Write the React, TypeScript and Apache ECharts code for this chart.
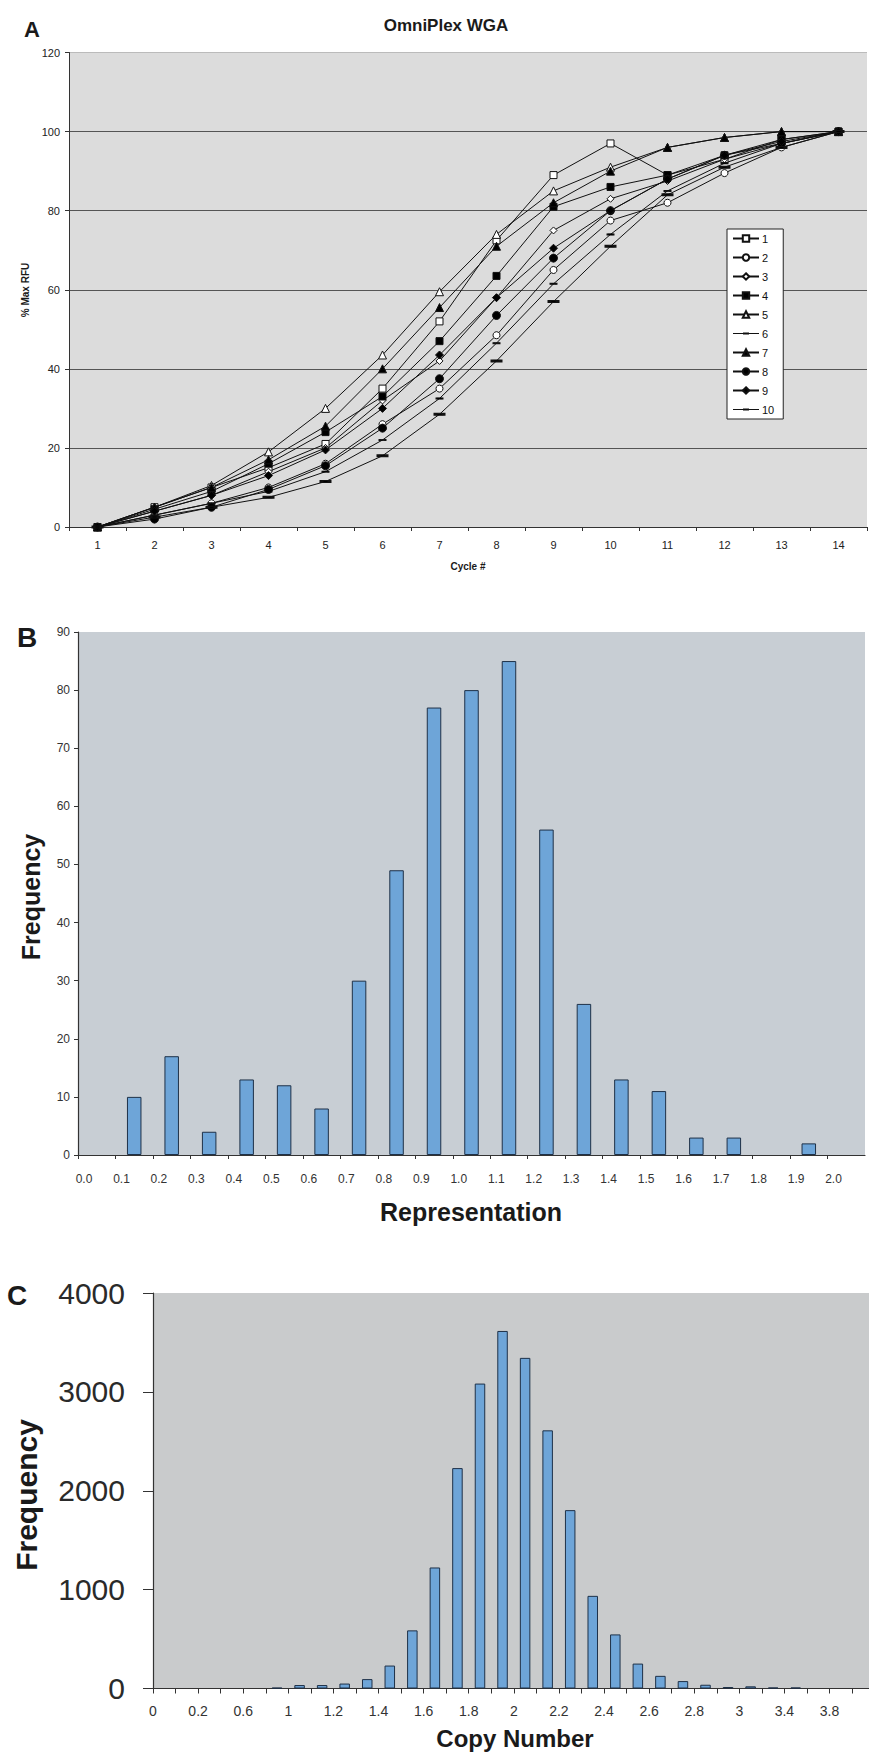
import React, { useEffect, useRef } from 'react';
import * as echarts from 'echarts';

// ---------- Panel A data ----------
const cycles = ['1', '2', '3', '4', '5', '6', '7', '8', '9', '10', '11', '12', '13', '14'];
const runNames = ['1', '2', '3', '4', '5', '6', '7', '8', '9', '10'];
const run1 = [0, 5, 10, 15, 21, 35, 52, 72.5, 89, 97, 89, 93, 98, 100];
const run2 = [0, 3, 6, 10, 16, 26, 35, 48.5, 65, 77.5, 82, 89.5, 96, 100];
const run3 = [0, 4, 8, 14, 20, 32, 42, 58, 75, 83, 87.5, 93, 97, 100];
const run4 = [0, 4.5, 9, 16, 24, 33, 47, 63.5, 81, 86, 89, 94, 98, 100];
const run5 = [0, 5, 10.5, 19, 30, 43.5, 59.5, 74, 85, 91, 96, 98.5, 100, 100];
const run6 = [0, 3, 6, 9, 14, 22, 32.5, 46.5, 61.5, 74, 85, 92, 97, 100];
const run7 = [0, 5, 10, 17, 25.5, 40, 55.5, 71, 82, 90, 96, 98.5, 100, 100];
const run8 = [0, 2, 5, 9.5, 15.5, 25, 37.5, 53.5, 68, 80, 88, 94, 97, 100];
const run9 = [0, 4, 8, 13, 19.5, 30, 43.5, 58, 70.5, 80, 88, 94, 97.5, 100];
const run10 = [0, 2.5, 5, 7.5, 11.5, 18, 28.5, 42, 57, 71, 84, 91, 96, 100];
const runs = [run1, run2, run3, run4, run5, run6, run7, run8, run9, run10];

// ---------- Panel B data ----------
const repLabels = ['0.0', '0.1', '0.2', '0.3', '0.4', '0.5', '0.6', '0.7', '0.8', '0.9', '1.0',
  '1.1', '1.2', '1.3', '1.4', '1.5', '1.6', '1.7', '1.8', '1.9', '2.0'];
const repFreq = [0, 10, 17, 4, 13, 12, 8, 30, 49, 77, 80, 85, 56, 26, 13, 11, 3, 3, 0, 2, 0];

// ---------- Panel C data ----------
const copyLabels = ['0', '0.2', '0.6', '1', '1.2', '1.4', '1.6', '1.8', '2', '2.2', '2.4', '2.6', '2.8', '3', '3.4', '3.8'];
const copyFreq = [0, 0, 0, 0, 0, 8, 35, 35, 50, 95, 232, 588, 1224, 2229, 3084, 3616, 3344, 2611,
  1804, 937, 547, 252, 128, 75, 38, 15, 22, 10, 10, 0, 0, 0];

// marker styles per run (style only)
const markers = [
  { symbol: 'rect', size: 7, fill: '#ffffff' },
  { symbol: 'circle', size: 7, fill: '#ffffff' },
  { symbol: 'diamond', size: 7, fill: '#ffffff' },
  { symbol: 'rect', size: 7, fill: '#000000' },
  { symbol: 'triangle', size: 8, fill: '#ffffff' },
  { symbol: 'rect', size: [6, 1.5], fill: '#000000' },
  { symbol: 'triangle', size: 8, fill: '#000000' },
  { symbol: 'circle', size: 8, fill: '#000000' },
  { symbol: 'diamond', size: 8, fill: '#000000' },
  { symbol: 'rect', size: [8, 2], fill: '#000000' },
];
const DASH_ICON = 'path://M0,1 H10 V0.4 H16 V1 H26 V2 H16 V2.6 H10 V2 H0 Z';

const FONT = "'Liberation Sans', Arial, Helvetica, sans-serif";

function txt(text: string, x: number, y: number, size: number, bold = true, rotate = 0) {
  return {
    type: 'text',
    x,
    y,
    rotation: rotate,
    silent: true,
    style: {
      text,
      font: `${bold ? 'bold ' : ''}${size}px ${FONT}`,
      fill: '#1a1a1a',
      align: 'center',
      verticalAlign: 'middle',
      textAlign: 'center',
      textVerticalAlign: 'middle',
    },
  };
}

export default function App() {
  const ref = useRef<HTMLDivElement>(null);

  useEffect(() => {
    if (!ref.current) return;
    const chart = echarts.init(ref.current, undefined, { renderer: 'svg' });

    const lineSeries = runs.map((d, i) => ({
      name: runNames[i],
      type: 'line',
      xAxisIndex: 0,
      yAxisIndex: 0,
      data: d,
      symbol: markers[i].symbol,
      symbolSize: markers[i].size,
      showSymbol: true,
      lineStyle: { color: '#111', width: 1 },
      itemStyle: { color: markers[i].fill, borderColor: '#111', borderWidth: 1 },
      emphasis: { disabled: true },
      z: 3,
    }));

    const legendData = runNames.map((n, i) =>
      markers[i].symbol === 'rect' && Array.isArray(markers[i].size)
        ? { name: n, icon: DASH_ICON, itemStyle: { color: '#111', borderWidth: 0 } }
        : n
    );

    const option: any = {
      animation: false,
      backgroundColor: '#ffffff',
      textStyle: { fontFamily: FONT },
      grid: [
        { left: 69, top: 52.5, width: 798, height: 474.5, show: true, backgroundColor: '#dcdcdc', borderWidth: 0 },
        { left: 78, top: 632, width: 787, height: 523, show: true, backgroundColor: '#c8ced4', borderWidth: 0 },
        { left: 153, top: 1293, width: 716, height: 395.5, show: true, backgroundColor: '#c9cbcc', borderWidth: 0 },
      ],
      legend: {
        orient: 'vertical',
        left: 727,
        top: 229,
        backgroundColor: '#ffffff',
        borderColor: '#222',
        borderWidth: 1,
        borderRadius: 0,
        padding: [4, 9, 4, 5],
        itemWidth: 26,
        itemHeight: 8,
        itemGap: 8,
        symbolKeepAspect: true,
        data: legendData,
        textStyle: { fontSize: 11, color: '#111', fontFamily: FONT, padding: [0, 0, 0, -2] },
        selectedMode: false,
      },
      xAxis: [
        {
          gridIndex: 0,
          type: 'category',
          data: cycles,
          boundaryGap: true,
          axisLine: { lineStyle: { color: '#333', width: 1 } },
          axisTick: { show: true, length: 4, lineStyle: { color: '#333' } },
          axisLabel: { fontSize: 11, color: '#222', margin: 12 },
          splitLine: { show: false },
        },
        {
          gridIndex: 1,
          type: 'value',
          min: 0,
          max: 21,
          interval: 1,
          axisLine: { onZero: false, lineStyle: { color: '#333', width: 1.2 } },
          axisTick: { show: true, length: 4, lineStyle: { color: '#333' } },
          axisLabel: {
            fontSize: 12,
            color: '#333',
            margin: 18,
            showMaxLabel: false,
            padding: [0, 0, 0, 12],
            formatter: (v: number) => repLabels[Math.round(v)] ?? '',
          },
          splitLine: { show: false },
        },
        {
          gridIndex: 2,
          type: 'value',
          min: 0,
          max: 31.75,
          interval: 1,
          axisLine: { onZero: false, lineStyle: { color: '#333', width: 1.2 } },
          axisTick: { show: true, length: 5, lineStyle: { color: '#333' } },
          axisLabel: {
            fontSize: 14,
            color: '#333',
            margin: 15,
            showMaxLabel: false,
            formatter: (v: number) => {
              const k = Math.round(v);
              return k % 2 === 0 ? copyLabels[k / 2] ?? '' : '';
            },
          },
          splitLine: { show: false },
        },
      ],
      yAxis: [
        {
          gridIndex: 0,
          type: 'value',
          min: 0,
          max: 120,
          interval: 20,
          axisLine: { show: true, lineStyle: { color: '#333', width: 1 } },
          axisTick: { show: true, length: 4, lineStyle: { color: '#333' } },
          axisLabel: { fontSize: 11, color: '#222', margin: 9 },
          splitLine: {
            show: true,
            lineStyle: { color: ['#555', '#555', '#555', '#555', '#555', '#555', '#bbbbbb'], width: 1 },
          },
        },
        {
          gridIndex: 1,
          type: 'value',
          min: 0,
          max: 90,
          interval: 10,
          axisLine: { show: true, lineStyle: { color: '#333', width: 1.2 } },
          axisTick: { show: true, length: 4, lineStyle: { color: '#333' } },
          axisLabel: { fontSize: 12, color: '#333', margin: 8 },
          splitLine: { show: false },
        },
        {
          gridIndex: 2,
          type: 'value',
          min: 0,
          max: 4000,
          interval: 1000,
          axisLine: { show: true, lineStyle: { color: '#333', width: 1.2 } },
          axisTick: { show: true, length: 10, lineStyle: { color: '#333' } },
          axisLabel: { fontSize: 30, color: '#2a2a2a', margin: 28, formatter: (v: number) => String(v) },
          splitLine: { show: false },
        },
      ],
      series: [
        ...lineSeries,
        {
          name: 'Representation',
          type: 'bar',
          xAxisIndex: 1,
          yAxisIndex: 1,
          barWidth: 14.5,
          data: repFreq.map((v, i) => (v > 0 ? [i + 0.5, v] : [i + 0.5, '-'])),
          itemStyle: { color: '#6ea5d8', borderColor: '#1e3148', borderWidth: 1 },
          emphasis: { disabled: true },
        },
        {
          name: 'Copy Number',
          type: 'bar',
          xAxisIndex: 2,
          yAxisIndex: 2,
          barWidth: 10.5,
          data: copyFreq.map((v, i) => (v > 0 ? [i + 0.5, v] : [i + 0.5, '-'])),
          itemStyle: { color: '#6ea5d8', borderColor: '#1e3148', borderWidth: 1 },
          emphasis: { disabled: true },
        },
      ],
      graphic: [
        txt('A', 32, 29, 22),
        txt('OmniPlex WGA', 446, 25, 17),
        txt('% Max RFU', 25, 290, 10, true, Math.PI / 2),
        txt('Cycle #', 468, 566, 10),
        txt('B', 27, 637, 28),
        txt('Frequency', 31, 897, 25, true, Math.PI / 2),
        txt('Representation', 471, 1212, 25),
        txt('C', 17, 1295, 28),
        txt('Frequency', 26, 1495, 30, true, Math.PI / 2),
        txt('Copy Number', 515, 1738, 24),
      ],
    };

    chart.setOption(option);
    return () => {
      chart.dispose();
    };
  }, []);

  return (
    <div
      ref={ref}
      style={{ position: 'absolute', left: 0, top: 0, width: 869, height: 1757 }}
    />
  );
}
